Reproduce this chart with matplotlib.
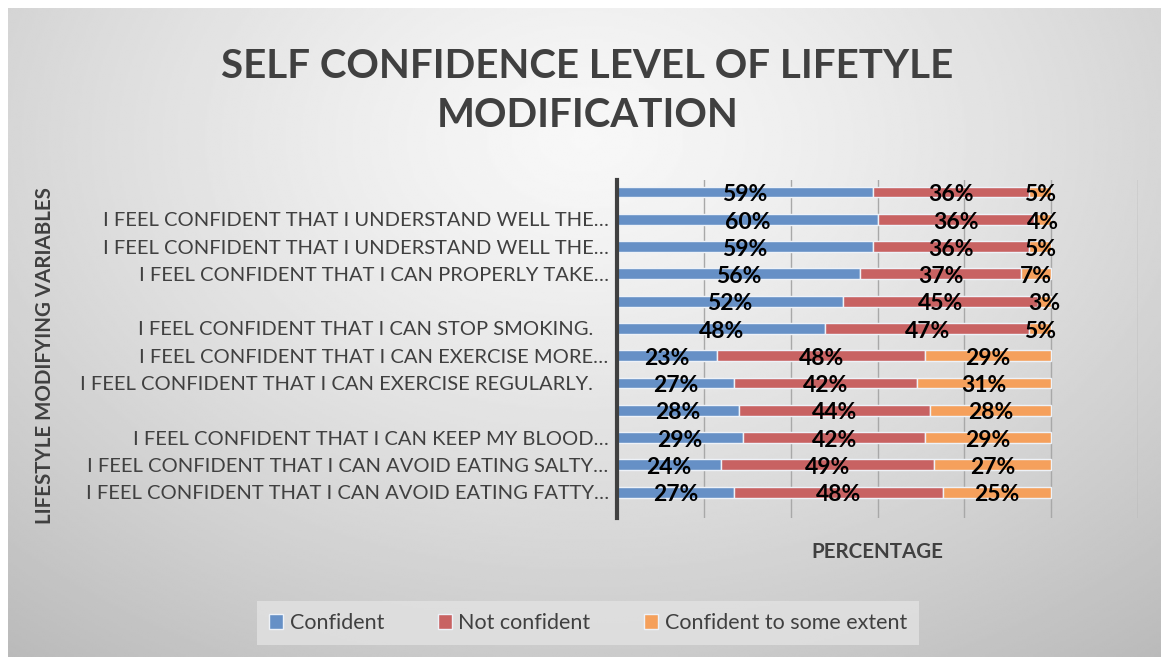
import numpy as np
import matplotlib
matplotlib.use("Agg")
import matplotlib.pyplot as plt
from matplotlib.patches import Patch

plt.rcParams['font.family'] = ['Lato', 'DejaVu Sans']

# categories listed top to bottom, as in the picture
labels = [
    "",
    "I FEEL CONFIDENT THAT I UNDERSTAND WELL THE…",
    "I FEEL CONFIDENT THAT I UNDERSTAND WELL THE…",
    "I FEEL CONFIDENT THAT I CAN PROPERLY TAKE…",
    "",
    "I FEEL CONFIDENT THAT I CAN STOP SMOKING.   ",
    "I FEEL CONFIDENT THAT I CAN EXERCISE MORE…",
    "I FEEL CONFIDENT THAT I CAN EXERCISE REGULARLY.   ",
    "",
    "I FEEL CONFIDENT THAT I CAN KEEP MY BLOOD…",
    "I FEEL CONFIDENT THAT I CAN AVOID EATING SALTY…",
    "I FEEL CONFIDENT THAT I CAN AVOID EATING FATTY…",
]
confident = [59, 60, 59, 56, 52, 48, 23, 27, 28, 29, 24, 27]
not_confident = [36, 36, 36, 37, 45, 47, 48, 42, 44, 42, 49, 48]
some_extent = [5, 4, 5, 7, 3, 5, 29, 31, 28, 29, 27, 25]
series_names = ["Confident", "Not confident", "Confident to some extent"]
colors = ["#6690c6", "#c86262", "#f5a05c"]

W, H = 1161, 657
fig = plt.figure(figsize=(W / 100, H / 100), dpi=100, facecolor="white")

# gradient background
bg = fig.add_axes([8 / W, 0, 1 - 8 / W, 1 - 8 / H], zorder=-10)
yy, xx = np.mgrid[0:300, 0:600]
cx, cy = 300, 60
d = np.sqrt(((xx - cx) / 600.0) ** 2 + ((yy - cy) / 380.0) ** 2)
val = 0.97 - 0.32 * np.clip(d, 0, 1) ** 1.3
bg.imshow(val, cmap="gray", vmin=0, vmax=1, aspect="auto", interpolation="bilinear")
bg.axis("off")

ax = fig.add_axes([617 / W, 1 - 518 / H, (1138 - 617) / W, (518 - 180) / H])
ax.patch.set_alpha(0)

n = len(labels)
y = np.arange(n)[::-1]
left = np.zeros(n)
for vals, name, c in zip([confident, not_confident, some_extent], series_names, colors):
    ax.barh(y, vals, left=left, height=0.4, color=c,
            edgecolor="#eef2f8", linewidth=1.0, label=name, zorder=3)
    for yi, l0, v in zip(y, left, vals):
        ax.text(l0 + v / 2, yi - 0.1, f"{v}%", ha="center", va="center",
                fontsize=16.5, fontweight="bold", color="black", zorder=5)
    left += np.array(vals)

ax.set_xlim(0, 120)
ax.set_ylim(-0.95, n - 0.56)
ax.set_xticks(np.arange(0, 121, 20))
ax.set_xticklabels([])
ax.tick_params(axis="x", length=0)
ax.grid(axis="x", color="#a8a8a8", linewidth=1, zorder=0)
ax.set_yticks(y)
ax.set_yticklabels(labels, fontsize=14.5, color="#404040")
ax.tick_params(axis="y", length=0, pad=6)
for s in ["top", "right", "bottom"]:
    ax.spines[s].set_visible(False)
ax.spines["left"].set_color("#404040")
ax.spines["left"].set_linewidth(3)
ax.spines["left"].set_zorder(6)

fig.text(0.506, 1 - 91 / H, "SELF CONFIDENCE LEVEL OF LIFETYLE\nMODIFICATION",
         ha="center", va="center", fontsize=29, fontweight="bold",
         color="#404040", linespacing=1.38)
fig.text(45 / W, 1 - 356 / H, "LIFESTYLE MODIFYING VARIABLES", rotation=90,
         ha="center", va="center", fontsize=14.8, fontweight="bold", color="#404040")
fig.text(877 / W, 1 - 552 / H, "PERCENTAGE", ha="center", va="center",
         fontsize=14.8, fontweight="bold", color="#404040")

handles = [Patch(facecolor=c, edgecolor="#eef2f8", label=nm) for c, nm in zip(colors, series_names)]
leg = fig.legend(handles=handles, loc="center", bbox_to_anchor=(588 / W, 1 - 623 / H),
                 ncol=3, fontsize=15.5, frameon=True, fancybox=False,
                 handlelength=0.65, handleheight=0.65, handletextpad=0.3,
                 columnspacing=2.5, borderpad=0.55, borderaxespad=0,
                 labelcolor="#404040")
leg.get_frame().set_facecolor("#e2e2e2")
leg.get_frame().set_edgecolor("none")

fig.savefig("out.png", dpi=100, facecolor="white")
